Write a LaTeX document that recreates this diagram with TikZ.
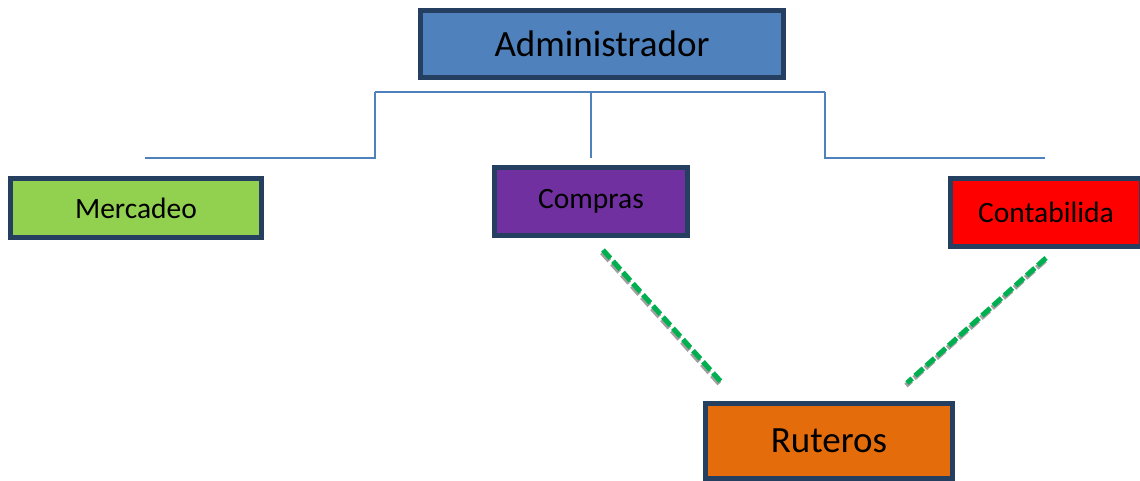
\documentclass[tikz,border=0pt]{standalone}
\usepackage{fontspec}
\setmainfont{Carlito}
\usetikzlibrary{calc}
\definecolor{BorderClr}{HTML}{243F60}
\definecolor{LineClr}{HTML}{4F81BD}
\definecolor{AdminClr}{HTML}{4F81BD}
\definecolor{MercClr}{HTML}{92D050}
\definecolor{ComprasClr}{HTML}{7030A0}
\definecolor{ContaClr}{HTML}{FF0000}
\definecolor{RutClr}{HTML}{E46C0A}
\definecolor{LinkClr}{HTML}{00B050}
\definecolor{ShadowClr}{HTML}{A0A0A0}

\begin{document}
\begin{tikzpicture}[x=1pt,y=-1pt,
  area/.style={draw=BorderClr,line width=5pt,inner sep=0pt},
  big/.style={font=\fontsize{37}{44}\selectfont},
  small/.style={font=\fontsize{29.5}{35}\selectfont},
  orgline/.style={draw=LineClr,line width=1.3pt},
  link/.style={draw=LinkClr,line width=5pt,dash pattern=on 11pt off 4pt},
  linkshadow/.style={draw=ShadowClr,line width=5pt,dash pattern=on 11pt off 4pt}]
\useasboundingbox (0,0) rectangle (1140,481);

\node[area,big,fill=AdminClr,minimum width=363pt,minimum height=67pt] (admin) at (602,44) {Administrador};
\node[area,small,fill=MercClr,minimum width=251pt,minimum height=59pt] (merc) at (136,208) {Mercadeo};
\node[area,small,fill=ComprasClr,minimum width=193pt,minimum height=68pt] (compras) at (591,201.5) {Compras};
\node[area,small,fill=ContaClr,minimum width=191pt,minimum height=68pt] (conta) at (1046,212.5) {Contabilida};
\node[area,big,fill=RutClr,minimum width=247pt,minimum height=75pt] (rut) at (829,441) {Ruteros};

\coordinate (busL) at (375,92);
\coordinate (busR) at (825,92);
\coordinate (busM) at (591,92);
\coordinate (dropL) at (375,158);
\coordinate (dropR) at (825,158);
\coordinate (endL) at (145,158);
\coordinate (endR) at (1045,158);
\coordinate (endM) at (591,158);

\draw[orgline] (busL) -- (busR);
\draw[orgline] (busM) -- (endM);
\draw[orgline] (busL) -- (dropL) -- (endL);
\draw[orgline] (busR) -- (dropR) -- (endR);

\coordinate (c1) at (603,250);
\coordinate (r1) at (722,383);
\coordinate (c2) at (1046,258);
\coordinate (r2) at (907,383);

\draw[linkshadow] ($(c1)+(-1,2.5)$) -- ($(r1)+(-1,2.5)$);
\draw[linkshadow] ($(c2)+(-1,2.5)$) -- ($(r2)+(-1,2.5)$);
\draw[link] (c1) -- (r1);
\draw[link] (c2) -- (r2);

\end{tikzpicture}
\end{document}
